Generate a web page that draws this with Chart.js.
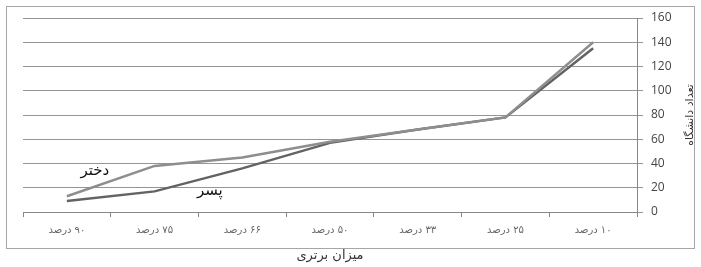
<!DOCTYPE html>
<html><head><meta charset="utf-8">
<script src="https://cdn.jsdelivr.net/npm/chart.js@4"></script>
<style>html,body{margin:0;padding:0;background:#fff;}canvas{display:block;direction:rtl;}</style>
</head><body>
<canvas id="c" width="701" height="267"></canvas>
<script>
const categories = ["۹۰ درصد","۷۵ درصد","۶۶ درصد","۵۰ درصد","۳۳ درصد","۲۵ درصد","۱۰ درصد"];
const girlValues = [13, 38, 45, 58, 68, 78, 140];
const boyValues = [9, 17, 36, 57, 68, 78, 135];
const yTicks = [0,20,40,60,80,100,120,140,160];
const girlLabel = "دختر";
const boyLabel = "پسر";
const xTitle = "میزان برتری";
const yTitle = "تعداد دانشگاه";

const extras = {
  id: 'extras',
  afterDraw(chart) {
    const ctx = chart.ctx, x = chart.scales.x, y = chart.scales.y;
    ctx.save();
    ctx.strokeStyle = '#a6a6a6'; ctx.lineWidth = 1;
    ctx.strokeRect(6.5, 6.5, 688, 242);
    ctx.fillStyle = '#111';
    ctx.textAlign = 'center'; ctx.textBaseline = 'middle';
    ctx.font = '15px "DejaVu Sans"';
    ctx.fillText(girlLabel, x.getPixelForValue(0.32), y.getPixelForValue(34));
    ctx.fillText(boyLabel, x.getPixelForValue(1.63), y.getPixelForValue(17));
    ctx.fillStyle = '#333';
    ctx.font = '13px "DejaVu Sans"';
    ctx.fillText(xTitle, (chart.chartArea.left + chart.chartArea.right)/2, 256);
    ctx.translate(690, (y.top + y.bottom)/2);
    ctx.rotate(-Math.PI/2);
    ctx.font = '11px "DejaVu Sans"';
    ctx.fillText(yTitle, 0, 0);
    ctx.restore();
  }
};

new Chart(document.getElementById('c'), {
  type: 'line',
  data: {
    labels: categories,
    datasets: [
      {label: girlLabel, data: girlValues, borderColor: '#8e8e8e', borderWidth: 2.5, pointRadius: 0, tension: 0},
      {label: boyLabel, data: boyValues, borderColor: '#636363', borderWidth: 2.5, pointRadius: 0, tension: 0}
    ]
  },
  options: {
    responsive: false, animation: false,
    layout: {padding: {left: 23, top: 18, right: 0, bottom: 0}},
    plugins: {legend: {display: false}, tooltip: {enabled: false}},
    scales: {
      x: {
        offset: true,
        grid: {drawOnChartArea: false, drawTicks: true, tickLength: 5, offset: true, color: '#888'},
        border: {color: '#888'},
        ticks: {padding: 7, color: '#666', font: {family: 'DejaVu Sans', size: 10}, maxRotation: 0},
        afterFit(s) { s.height = 55; }
      },
      y: {
        position: 'right', min: 0, max: 160,
        afterBuildTicks(s) { s.ticks = yTicks.map(v => ({value: v})); },
        grid: {color: '#959595', tickLength: 6},
        border: {color: '#888'},
        ticks: {padding: 8, color: '#444', font: {family: 'Open Sans', size: 12}},
        afterFit(s) { s.width = 64; }
      }
    }
  },
  plugins: [extras]
});
</script>
</body></html>
